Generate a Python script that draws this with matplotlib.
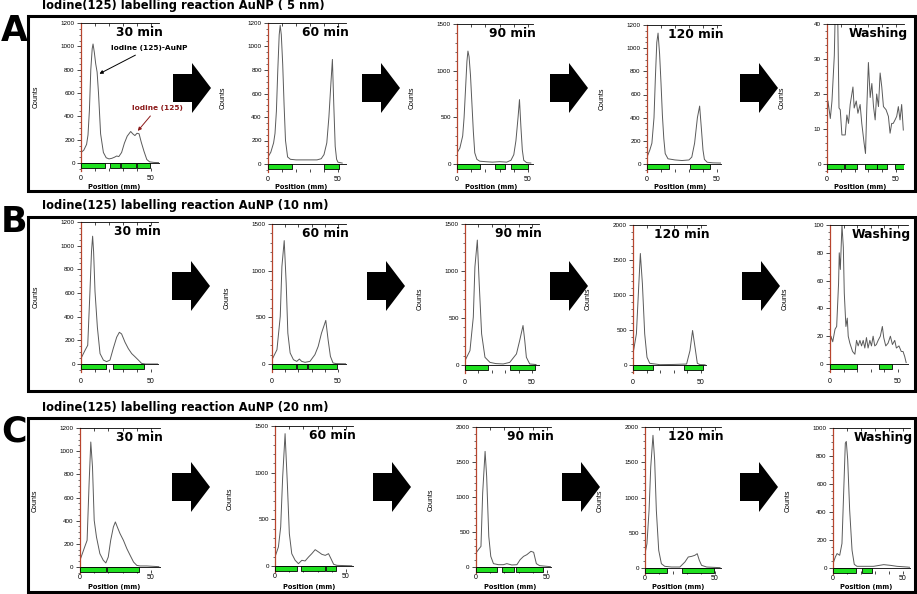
import matplotlib
matplotlib.use("Agg")
import matplotlib.pyplot as plt
from matplotlib.patches import Rectangle, Polygon
from matplotlib.ticker import MultipleLocator, FixedLocator, FixedFormatter

W, H = 917, 594

row_titles = ["Iodine(125) labelling reaction AuNP ( 5 nm)",
              "Iodine(125) labelling reaction AuNP (10 nm)",
              "Iodine(125) labelling reaction AuNP (20 nm)"]
row_letters = ["A", "B", "C"]
panel_names = ["30 min", "60 min", "90 min", "120 min", "Washing"]

# ---- row A (5 nm) ----
pos_a30 = [0, 2, 4, 5, 6, 7, 8, 8.6, 9.5, 10.5, 11.5, 12.5, 14, 16, 18, 20, 22, 24, 25.5, 27, 29, 31, 33,
           35.5, 37, 38.5, 40, 41.5, 43, 45, 47, 49, 52, 56]
cnt_a30 = [90, 110, 160, 240, 450, 800, 980, 1020, 950, 850, 780, 600, 250, 90, 45, 35, 40, 50, 60, 55, 90,
           170, 230, 270, 250, 235, 255, 250, 180, 100, 30, 10, 5, 3]
pos_a60 = [0, 2, 4, 5, 6, 7, 8, 8.7, 9.5, 10.5, 11.5, 12.5, 14, 16, 20, 25, 30, 35, 38, 40, 42, 43.5, 45,
           46, 47, 48, 49, 50, 53]
cnt_a60 = [60, 100, 180, 260, 450, 800, 1100, 1180, 1100, 850, 500, 200, 60, 40, 35, 35, 35, 35, 45, 80,
           180, 400, 700, 890, 500, 150, 40, 15, 8]
pos_a90 = [0, 2, 4, 5, 6, 7, 7.7, 8.5, 9.5, 10.5, 11.5, 12.5, 14, 16, 20, 25, 30, 35, 38, 40, 41.5, 43, 44,
           45, 46, 47, 49, 52]
cnt_a90 = [120, 170, 300, 500, 800, 1100, 1210, 1150, 950, 650, 350, 120, 50, 30, 25, 20, 25, 20, 40, 100,
           250, 500, 690, 400, 150, 40, 15, 10]
pos_a120 = [0, 2, 3.5, 5, 6, 7, 7.9, 9, 10, 11, 12, 13, 15, 20, 25, 30, 32, 34, 36, 37.6, 39, 40, 41, 43,
            47, 53]
cnt_a120 = [60, 120, 180, 400, 750, 1050, 1130, 950, 700, 420, 220, 90, 45, 35, 30, 35, 60, 180, 400, 500,
            280, 120, 40, 15, 10, 8]
pos_awash = [0, 0.7, 2.4, 3.6, 5.3, 6, 7.7, 8.7, 9.6, 10.8, 13.2, 14.4, 15.6, 16.8, 18.8, 19.7, 21.2,
             22.4, 24, 25.2, 26.9, 27.9, 28.8, 30, 31.3, 32.5, 33.7, 34.9, 36, 37.3, 38.5, 39.7, 40.9,
             42.8, 44.5, 45.7, 46.9, 48, 49.3, 50.5, 51.7, 52.9, 54.1, 55.3]
cnt_awash = [12.6, 18, 13, 18, 31, 44, 44, 16, 15.5, 8.3, 8.3, 14, 11.6, 17, 22, 16, 18, 14.5, 17, 11.6,
             5.9, 3, 15.5, 29, 19, 23, 16.4, 12.6, 20, 16.4, 26, 22, 16.4, 15.5, 13.6, 8.8, 11.6, 11.6,
             12.6, 13.6, 16.4, 12.6, 17, 9.7]

# ---- row B (10 nm) ----
pos_b30 = [0, 2.9, 4.8, 6.4, 7.5, 8.3, 9, 10, 11.7, 13.6, 16, 18.3, 20.7, 23, 25.5, 27.4, 29, 31.4, 33.8,
           36.2, 38.6, 41, 43.3, 46, 55]
cnt_b30 = [47, 116, 158, 614, 950, 1080, 950, 614, 310, 88, 33, 20, 33, 130, 227, 268, 254, 185, 130, 88,
           61, 33, 5, 0, 0]
pos_b60 = [0, 3.75, 6.25, 7.5, 9.25, 10.75, 12, 13.75, 16.25, 18.75, 20.75, 22.5, 25, 28.75, 32.5, 35,
           37.5, 40.75, 42.5, 44.25, 46.25, 48.75, 56]
cnt_b60 = [46, 153, 510, 1044, 1322, 866, 331, 118, 46, 28, 53, 28, 18, 28, 100, 189, 331, 467, 260, 82,
           11, 4, 2]
pos_b90 = [0, 3.7, 6.2, 7.4, 9.2, 10.6, 12.4, 14.9, 18.6, 23, 28.5, 33.4, 38.4, 40.8, 43.3, 44.6, 45.8,
           48.3, 53]
cnt_b90 = [46, 153, 510, 1044, 1329, 866, 331, 82, 28, 15, 11, 28, 118, 260, 420, 260, 82, 11, 5]
pos_b120 = [0, 2.5, 3.7, 5.4, 6.9, 8.6, 10.3, 12.3, 19.7, 30, 39.4, 41.9, 43.8, 45.6, 47.3, 49.3, 53]
cnt_b120 = [158, 445, 923, 1593, 1163, 445, 110, 24, 5, 8, 14, 206, 493, 254, 24, 5, 3]
pos_bwash = [0, 0.7, 2, 3.7, 4.9, 6.3, 6.8, 7.6, 8.8, 9.8, 10.5, 11.7, 12.7, 13.4, 14.6, 16.6, 18.3, 19.5,
             20.7, 22, 23.2, 24.4, 25.6, 26.8, 28, 29.3, 30.5, 31.7, 32.9, 34.1, 35.4, 37, 38.5, 39.5,
             41, 42.7, 44.4, 45.9, 47.6, 48.8, 50.7, 52.4, 53.7, 54.9, 56]
cnt_bwash = [10, 20, 16, 25, 27, 58, 80, 68, 100, 84, 51, 27, 33, 20, 15, 9, 7, 17, 13, 17, 13, 17, 11.5,
             19, 11.5, 17, 13, 20, 13, 14, 17, 20, 27, 19, 13, 15, 20, 14, 17, 11.5, 13, 9, 9, 5.5, 1]

# ---- row C (20 nm) ----
pos_c30 = [0, 3.3, 5, 6.4, 7.6, 8.8, 10, 11.6, 14, 16.4, 18.2, 19.9, 21.6, 23.5, 24.9, 26.3, 28.2, 30.6,
           33, 35.3, 37.7, 40, 42.4, 47, 55.5]
cnt_c30 = [58, 173, 230, 720, 1079, 863, 403, 259, 115, 58, 35, 86, 230, 345, 389, 345, 288, 230, 158, 101,
           43, 14, 9, 9, 3]
pos_c60 = [0, 2.4, 4, 5.4, 7.1, 8.7, 10.1, 11.8, 14.2, 16.5, 18.9, 21.2, 23.6, 25.9, 28.3, 30.7, 33, 35.4,
           37.7, 39.4, 41.3, 43.6, 54]
cnt_c60 = [96, 204, 418, 953, 1418, 882, 346, 132, 61, 25, 61, 54, 96, 132, 175, 150, 125, 114, 132, 79,
           18, 7, 2]
pos_c90 = [0, 1.7, 3.5, 4.7, 6.4, 7.5, 9, 10.4, 12.3, 15.8, 19.3, 21.7, 25.2, 28.8, 31.1, 33.5, 35.8, 38.7,
           40.6, 42.5, 44.8, 52.4]
cnt_c90 = [200, 248, 295, 1057, 1652, 1295, 438, 152, 48, 33, 33, 48, 29, 33, 105, 152, 176, 224, 210, 48,
           19, 5]
pos_c120 = [0, 1.4, 2.9, 4.1, 5.7, 6.9, 8.1, 9.8, 11.7, 14.1, 18.9, 24.9, 28.5, 30.9, 33.3, 35.6, 37.3,
            38.8, 40.4, 44, 53.6]
cnt_c120 = [203, 345, 818, 1432, 1882, 1527, 818, 250, 61, 24, 14, 14, 85, 156, 165, 180, 203, 109, 38,
            14, 5]
pos_cwash = [0, 1.7, 2.9, 4.8, 6.4, 7.6, 8.8, 9.5, 10.5, 11.9, 13.6, 15.2, 17.1, 21.9, 29, 36.2, 41, 45.7,
             52.9, 55]
cnt_cwash = [31, 79, 103, 91, 175, 533, 892, 904, 773, 414, 127, 26, 12, 12, 12, 24, 19, 12, 7, 5]

# green lanes under each trace (mm)
green_a = [[(0, 17), (21, 28), (28.5, 39.5), (40, 49.5)], [(0, 17), (40, 50.5)],
           [(0, 16), (27, 33.5), (38, 50)], [(0, 16), (31, 45)],
           [(0, 12.2), (13, 21.7), (27.6, 36), (36.5, 43.5), (49.3, 55.5)]]
green_b = [[(0, 18), (22.6, 45)], [(0, 18), (18.7, 26.5), (27.5, 49.5)], [(0, 17.3), (33.4, 52.5)],
           [(0, 14.8), (37.4, 51.5)], [(0, 19.5), (36, 45.8)]]
green_c = [[(0, 18.2), (19.2, 41.2)], [(0, 15.8), (18.2, 35.4), (36.1, 43.2)],
           [(0, 15.1), (18.2, 27.1), (28.3, 47.2)], [(0, 15.8), (26.3, 49.5)], [(0, 16.4), (20.7, 27.9)]]

ymax_a = [1200, 1200, 1500, 1200, 40]
ymax_b = [1200, 1500, 1500, 2000, 100]
ymax_c = [1200, 1500, 2000, 2000, 1000]

curves = [
    [(pos_a30, cnt_a30), (pos_a60, cnt_a60), (pos_a90, cnt_a90), (pos_a120, cnt_a120), (pos_awash, cnt_awash)],
    [(pos_b30, cnt_b30), (pos_b60, cnt_b60), (pos_b90, cnt_b90), (pos_b120, cnt_b120), (pos_bwash, cnt_bwash)],
    [(pos_c30, cnt_c30), (pos_c60, cnt_c60), (pos_c90, cnt_c90), (pos_c120, cnt_c120), (pos_cwash, cnt_cwash)],
]
greens = [green_a, green_b, green_c]
ymaxes = [ymax_a, ymax_b, ymax_c]

# layout in pixels: (x of 0 mm, x of 50 mm, y of 0 counts, y of top, xmax mm)
frames = [
    [(81, 151, 163, 23, 56), (268, 338, 164, 23, 55.5), (457, 528, 164, 24, 53.5),
     (647, 717, 164, 25, 52.5), (827, 896, 164, 24, 56)],
    [(81, 151, 364, 222, 55), (272, 338, 364, 224, 56), (465, 532, 365, 224, 55),
     (633, 701, 365, 225, 54), (830, 898, 364, 225, 57)],
    [(80, 151, 567, 428, 56), (275, 346, 566, 426, 55), (476, 547, 567, 427, 53),
     (645, 715, 568, 427, 54), (833, 903, 568, 428, 55)],
]
rows = [
    dict(title_y=5, box=(16, 191), letter_y=31, arrow_y=88, arrows=[173, 362, 550, 740],
         off=8, pad=3, poslab=187),
    dict(title_y=205, box=(217, 391), letter_y=222, arrow_y=286, arrows=[172, 367, 550, 742],
         off=8, pad=4.5, poslab=None),
    dict(title_y=408, box=(418, 592), letter_y=431, arrow_y=487, arrows=[172, 373, 562, 740],
         off=6, pad=0.5, poslab=587),
]

fig = plt.figure(figsize=(W / 100, H / 100), dpi=100)
tick_font = "Liberation Sans"


def fx(x):
    return x / W


def fy(y):
    return 1 - y / H


def block_arrow(left, cy):
    pts = [(left, cy - 14), (left + 19, cy - 14), (left + 19, cy - 25), (left + 38, cy),
           (left + 19, cy + 25), (left + 19, cy + 14), (left, cy + 14)]
    fig.add_artist(Polygon([(fx(x), fy(y)) for x, y in pts], closed=True, transform=fig.transFigure,
                           fc="black", ec="black", lw=0))


def tick_steps(ymax):
    if ymax == 40:
        return 10, 2
    if ymax == 100:
        return 20, 5
    if ymax in (1200, 1000):
        return 200, 50
    return 500, 100


def panel(frame, xs, ys, green, name, ymax, row):
    x0, x50, y0, ytop, xmax = frame
    pxmm = (x50 - x0) / 50.0
    pxc = (y0 - ytop) / float(ymax)
    off = row["off"]
    wpx = xmax * pxmm
    hpx = y0 + off - ytop
    ax = fig.add_axes([fx(x0), fy(y0 + off), wpx / W, hpx / H])
    ax.set_xlim(0, xmax)
    ax.set_ylim(-off / pxc, ymax)
    ax.plot(xs, ys, color="#5a5a5a", lw=0.7, zorder=2)
    ax.plot([0, xmax], [0, 0], color="#222222", lw=0.7, zorder=2, clip_on=False)
    gh = 5 / pxc
    for s, e in green:
        ax.add_patch(Rectangle((s, -gh), e - s, gh, fc="#1fe01f", ec="black", lw=0.6, zorder=3))
    for sp in ["right", "bottom"]:
        ax.spines[sp].set_visible(False)
    ax.spines["left"].set_color("#b8452e")
    ax.spines["left"].set_linewidth(0.9)
    ax.spines["top"].set_linewidth(0.6)
    major, minor = tick_steps(ymax)
    ax.yaxis.set_major_locator(FixedLocator(list(range(0, ymax + 1, major))))
    ax.yaxis.set_minor_locator(MultipleLocator(minor))
    ax.tick_params(axis="y", which="major", length=3, width=0.5, labelsize=4.5, pad=1.5)
    ax.tick_params(axis="y", which="minor", length=1.6, width=0.4)
    ax.xaxis.set_major_locator(FixedLocator([0, 10, 20, 30, 40, 50]))
    ax.xaxis.set_major_formatter(FixedFormatter(["0", "", "", "", "", "50"]))
    ax.tick_params(axis="x", top=True, bottom=True, direction="in", length=2, width=0.5,
                   labelsize=5, pad=row["pad"])
    for lab in ax.get_xticklabels() + ax.get_yticklabels():
        lab.set_fontfamily(tick_font)
    ax.set_ylabel("Counts", fontsize=5, fontfamily=tick_font)
    ax.yaxis.set_label_coords(-41 / wpx, 0.5)
    ax.text(1.0 + 3 / wpx, 1 - 3 / hpx, name, transform=ax.transAxes, ha="right", va="top",
            fontsize=8.8, fontweight="bold", family="DejaVu Sans")
    if row["poslab"] is not None:
        fig.text(fx(x0 + 24 * pxmm), fy(row["poslab"]), "Position (mm)", ha="center", va="center",
                 fontsize=4.8, fontweight="bold", family="DejaVu Sans")
    return ax


for r in range(3):
    row = rows[r]
    fig.text(fx(42), fy(row["title_y"]), row_titles[r], ha="left", va="center", fontsize=8.3,
             fontweight="bold", family="DejaVu Sans")
    fig.text(fx(1), fy(row["letter_y"]), row_letters[r], ha="left", va="center", fontsize=25,
             fontweight="bold", family="DejaVu Sans")
    top, bot = row["box"]
    fig.add_artist(Rectangle((fx(28), fy(bot)), (915 - 28) / W, (bot - top) / H, transform=fig.transFigure,
                             fill=False, ec="black", lw=2.2))
    for left in row["arrows"]:
        block_arrow(left, row["arrow_y"])
    axes_row = []
    for p in range(5):
        xs, ys = curves[r][p]
        axes_row.append(panel(frames[r][p], xs, ys, greens[r][p], panel_names[p], ymaxes[r][p], row))
    if r == 0:
        ax = axes_row[0]
        ax.annotate("Iodine (125)-AuNP", xy=(11.4, 754), xytext=(48.6, 985), ha="center", va="center",
                    fontsize=5.3, fontweight="bold", annotation_clip=False,
                    arrowprops=dict(arrowstyle="-|>", color="black", lw=0.7, mutation_scale=5))
        ax.annotate("Iodine (125)", xy=(39.3, 257), xytext=(54.3, 471), ha="center", va="center",
                    fontsize=5.3, fontweight="bold", color="#8b1a1a", annotation_clip=False,
                    arrowprops=dict(arrowstyle="-|>", color="#8b1a1a", lw=0.7, mutation_scale=5))

fig.savefig("out.png", dpi=100)
